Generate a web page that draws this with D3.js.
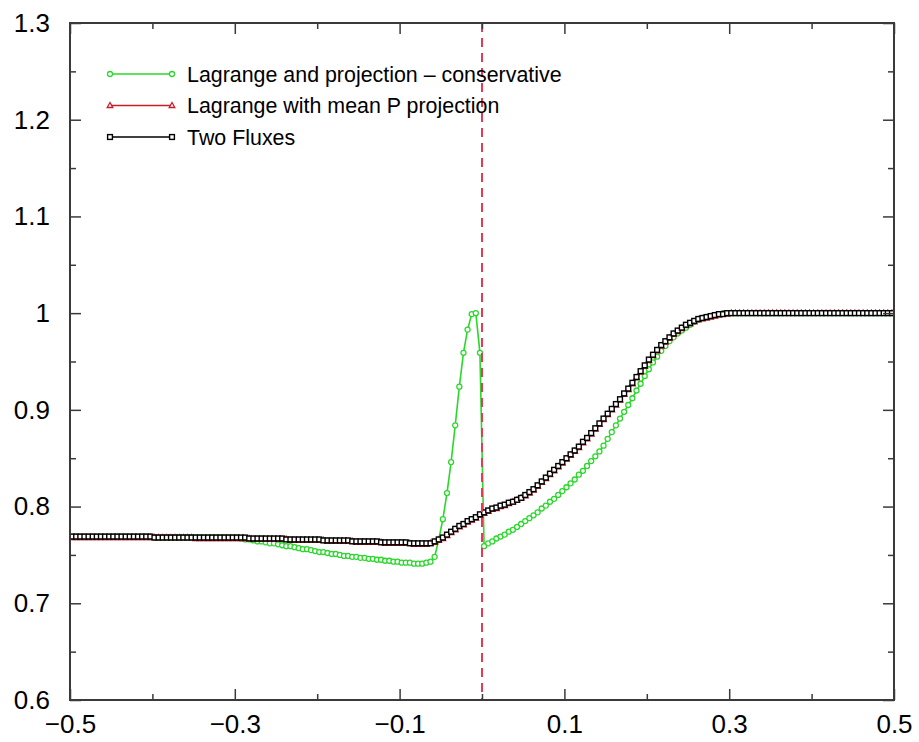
<!DOCTYPE html>
<html lang="en">
<head>
<meta charset="UTF-8">
<title>Lagrange projection comparison</title>
<script src="https://cdn.jsdelivr.net/npm/d3@7/dist/d3.min.js"></script>
<style>
  body { margin: 0; background: #fff; }
  svg text { font-family: "Liberation Sans", Arial, Helvetica, sans-serif; }
</style>
</head>
<body>
<script>
// cell-centred grid: 200 cells on [-0.5, 0.5]
var xStart = -0.4975, xStep = 0.005

var conservative = [
  .769,.769,.769,.769,.769,.769,.769,.769,.769,.769,
  .769,.769,.769,.769,.769,.769,.769,.769,.769,.769,
  .768,.768,.768,.768,.768,.768,.768,.768,.768,.768,
  .768,.768,.768,.768,.768,.768,.768,.768,.768,.768,
  .768,.767,.766,.766,.765,.764,.764,.763,.762,.762,
  .761,.760,.759,.759,.758,.757,.756,.756,.755,.754,
  .753,.753,.752,.751,.751,.750,.749,.749,.748,.748,
  .747,.747,.746,.746,.745,.745,.744,.744,.743,.743,
  .742,.742,.742,.741,.741,.741,.742,.743,.748,.766,
  .787,.814,.846,.884,.924,.959,.983,.999,1.000,.959,
  .759,.762,.764,.767,.769,.771,.774,.776,.779,.782,
  .785,.788,.791,.794,.798,.801,.805,.808,.812,.816,
  .820,.824,.828,.833,.837,.842,.847,.852,.857,.863,
  .870,.877,.884,.891,.898,.905,.912,.920,.927,.935,
  .942,.949,.955,.961,.966,.971,.975,.979,.982,.985,
  .988,.991,.993,.995,.996,.997,.998,.999,1.000,1.000,
  1,1,1,1,1,1,1,1,1,1,
  1,1,1,1,1,1,1,1,1,1,
  1,1,1,1,1,1,1,1,1,1,
  1,1,1,1,1,1,1,1,1,1
]

var meanP = [
  .768,.768,.768,.768,.768,.768,.768,.768,.768,.768,
  .768,.768,.768,.768,.768,.768,.768,.768,.768,.768,
  .768,.768,.768,.768,.768,.768,.768,.768,.768,.768,
  .767,.767,.767,.767,.767,.767,.767,.767,.767,.767,
  .767,.767,.767,.767,.766,.766,.766,.766,.766,.766,
  .766,.766,.766,.765,.765,.765,.765,.765,.765,.765,
  .765,.765,.764,.764,.764,.764,.764,.764,.764,.763,
  .763,.763,.763,.763,.763,.763,.762,.762,.762,.762,
  .762,.762,.762,.761,.761,.761,.761,.762,.763,.765,
  .767,.770,.773,.776,.779,.781,.784,.786,.788,.791,
  .793,.795,.797,.798,.800,.801,.803,.805,.807,.809,
  .811,.814,.817,.821,.825,.829,.833,.837,.841,.845,
  .849,.853,.857,.861,.866,.870,.875,.880,.885,.890,
  .895,.900,.905,.910,.916,.921,.927,.933,.939,.945,
  .951,.956,.961,.966,.970,.974,.978,.981,.984,.987,
  .989,.991,.993,.994,.995,.996,.997,.998,.999,.999,
  1,1,1,1,1,1,1,1,1,1,
  1,1,1,1,1,1,1,1,1,1,
  1,1,1,1,1,1,1,1,1,1,
  1,1,1,1,1,1,1,1,1,1
]

var twoFluxes = [
  .769,.769,.769,.769,.769,.769,.769,.769,.769,.769,
  .769,.769,.769,.769,.769,.769,.769,.769,.769,.769,
  .768,.768,.768,.768,.768,.768,.768,.768,.768,.768,
  .768,.768,.768,.768,.768,.768,.768,.768,.768,.768,
  .768,.768,.768,.767,.767,.767,.767,.767,.767,.767,
  .767,.767,.766,.766,.766,.766,.766,.766,.766,.766,
  .766,.765,.765,.765,.765,.765,.765,.765,.764,.764,
  .764,.764,.764,.764,.764,.763,.763,.763,.763,.763,
  .763,.763,.762,.762,.762,.762,.762,.762,.764,.766,
  .768,.771,.774,.777,.780,.782,.785,.787,.789,.792,
  .794,.796,.798,.799,.801,.802,.804,.805,.807,.809,
  .812,.815,.818,.822,.826,.830,.834,.838,.842,.846,
  .850,.854,.858,.862,.867,.871,.876,.881,.886,.891,
  .896,.901,.906,.911,.917,.922,.928,.934,.940,.946,
  .952,.957,.962,.967,.971,.975,.979,.982,.985,.988,
  .990,.992,.994,.995,.996,.997,.998,.999,.999,1.000,
  1,1,1,1,1,1,1,1,1,1,
  1,1,1,1,1,1,1,1,1,1,
  1,1,1,1,1,1,1,1,1,1,
  1,1,1,1,1,1,1,1,1,1
]

var seriesNames = ['Lagrange and projection \u2013 conservative', 'Lagrange with mean P projection', 'Two Fluxes']
var seriesColors = ['#2ad82a', '#c81e2a', '#000000']
var seriesMarkers = ['circle', 'triangle', 'square']

var xMajor = [-0.5, -0.3, -0.1, 0.1, 0.3, 0.5]
var xMinor = [-0.4, -0.2, 0, 0.2, 0.4]
var yMajor = [0.6, 0.7, 0.8, 0.9, 1.0, 1.1, 1.2, 1.3]
var yMinor = [0.65, 0.75, 0.85, 0.95, 1.05, 1.15, 1.25]
var interfaceX = 0

var width = 919
var height = 742
var margin = {left: 70, right: 25, top: 23, bottom: 42}

var svg = d3.select('body')
    .append('svg')
    .attr('width', width)
    .attr('height', height)

var x = d3.scaleLinear().domain([-0.5, 0.5]).range([margin.left, width - margin.right])
var y = d3.scaleLinear().domain([0.6, 1.3]).range([height - margin.bottom, margin.top])

var plotW = x.range()[1] - x.range()[0]
var plotH = y.range()[0] - y.range()[1]

// clip for curves
svg.append('clipPath').attr('id', 'clip')
    .append('rect')
    .attr('x', x(-0.5)).attr('y', y(1.3))
    .attr('width', plotW).attr('height', plotH)

var series = [conservative, meanP, twoFluxes].map(function (vals, k) {
    return {
        name: seriesNames[k],
        color: seriesColors[k],
        marker: seriesMarkers[k],
        points: vals.map(function (v, i) { return {x: xStart + xStep * i, y: v} })
    }
})

var line = d3.line()
    .x(function (d) { return x(d.x) })
    .y(function (d) { return y(d.y) })

function drawMarker(g, type, color) {
    if (type === 'circle') {
        g.append('circle').attr('r', 2.5)
            .attr('fill', '#fff').attr('stroke', color).attr('stroke-width', 1.3)
    } else if (type === 'triangle') {
        g.append('path').attr('d', 'M0,-3L2.8,2L-2.8,2Z')
            .attr('fill', '#fff').attr('stroke', color).attr('stroke-width', 1.3)
    } else {
        g.append('rect').attr('x', -2.4).attr('y', -2.4).attr('width', 4.8).attr('height', 4.8)
            .attr('fill', '#fff').attr('stroke', color).attr('stroke-width', 1.4)
    }
}

var curves = svg.append('g').attr('clip-path', 'url(#clip)')

series.forEach(function (s) {
    curves.append('path')
        .datum(s.points)
        .attr('fill', 'none')
        .attr('stroke', s.color)
        .attr('stroke-width', 1.6)
        .attr('d', line)

    curves.selectAll(null)
        .data(s.points)
        .enter()
        .append('g')
        .attr('transform', function (d) { return 'translate(' + x(d.x) + ',' + y(d.y) + ')' })
        .each(function () { drawMarker(d3.select(this), s.marker, s.color) })
})

// interface position
svg.append('line')
    .attr('x1', x(interfaceX)).attr('x2', x(interfaceX))
    .attr('y1', y(1.3)).attr('y2', y(0.6))
    .attr('stroke', '#e33a55')
    .attr('stroke-width', 2)
    .attr('stroke-dasharray', '9,6')

// axes (ticks pointing inward)
var axisColor = '#3a3a3a'
function styleAxis(g) {
    g.select('.domain').remove()
    g.selectAll('.tick line').attr('stroke', axisColor).attr('stroke-width', 1.5)
    g.selectAll('.tick text').attr('fill', '#000').style('font-size', '26px')
}

svg.append('g').attr('transform', 'translate(0,' + y(0.6) + ')')
    .call(d3.axisBottom(x).tickValues(xMajor).tickSize(-11).tickPadding(15).tickFormat(d3.format('.1f')))
    .call(styleAxis)
svg.append('g').attr('transform', 'translate(0,' + y(0.6) + ')')
    .call(d3.axisBottom(x).tickValues(xMinor).tickSize(-6).tickFormat(''))
    .call(styleAxis)
svg.append('g').attr('transform', 'translate(0,' + y(1.3) + ')')
    .call(d3.axisTop(x).tickValues(xMajor).tickSize(-11).tickFormat(''))
    .call(styleAxis)
svg.append('g').attr('transform', 'translate(0,' + y(1.3) + ')')
    .call(d3.axisTop(x).tickValues(xMinor).tickSize(-6).tickFormat(''))
    .call(styleAxis)

svg.append('g').attr('transform', 'translate(' + x(-0.5) + ',0)')
    .call(d3.axisLeft(y).tickValues(yMajor).tickSize(-11).tickPadding(20)
        .tickFormat(function (d) { return d === 1 ? '1' : d3.format('.1f')(d) }))
    .call(styleAxis)
svg.append('g').attr('transform', 'translate(' + x(-0.5) + ',0)')
    .call(d3.axisLeft(y).tickValues(yMinor).tickSize(-6).tickFormat(''))
    .call(styleAxis)
svg.append('g').attr('transform', 'translate(' + x(0.5) + ',0)')
    .call(d3.axisRight(y).tickValues(yMajor).tickSize(-11).tickFormat(''))
    .call(styleAxis)
svg.append('g').attr('transform', 'translate(' + x(0.5) + ',0)')
    .call(d3.axisRight(y).tickValues(yMinor).tickSize(-6).tickFormat(''))
    .call(styleAxis)

// minus signs as in the original
svg.selectAll('.tick text').text(function () { return d3.select(this).text().replace('-', '\u2212') })

// frame
svg.append('rect')
    .attr('x', x(-0.5)).attr('y', y(1.3))
    .attr('width', plotW).attr('height', plotH)
    .attr('fill', 'none')
    .attr('stroke', axisColor)
    .attr('stroke-width', 2)

// legend
var legend = svg.append('g')
var legendX0 = 110, legendX1 = 172, legendY0 = 74, legendDy = 31.5

series.forEach(function (s, k) {
    var ly = legendY0 + k * legendDy
    legend.append('line')
        .attr('x1', legendX0).attr('x2', legendX1)
        .attr('y1', ly).attr('y2', ly)
        .attr('stroke', s.color).attr('stroke-width', 1.6)
    ;[legendX0, legendX1].forEach(function (mx) {
        drawMarker(legend.append('g').attr('transform', 'translate(' + mx + ',' + ly + ')'), s.marker, s.color)
    })
    legend.append('text')
        .attr('x', 187).attr('y', ly)
        .attr('dy', '0.36em')
        .style('font-size', '21.4px')
        .attr('fill', '#000')
        .text(s.name)
})
</script>
</body>
</html>
